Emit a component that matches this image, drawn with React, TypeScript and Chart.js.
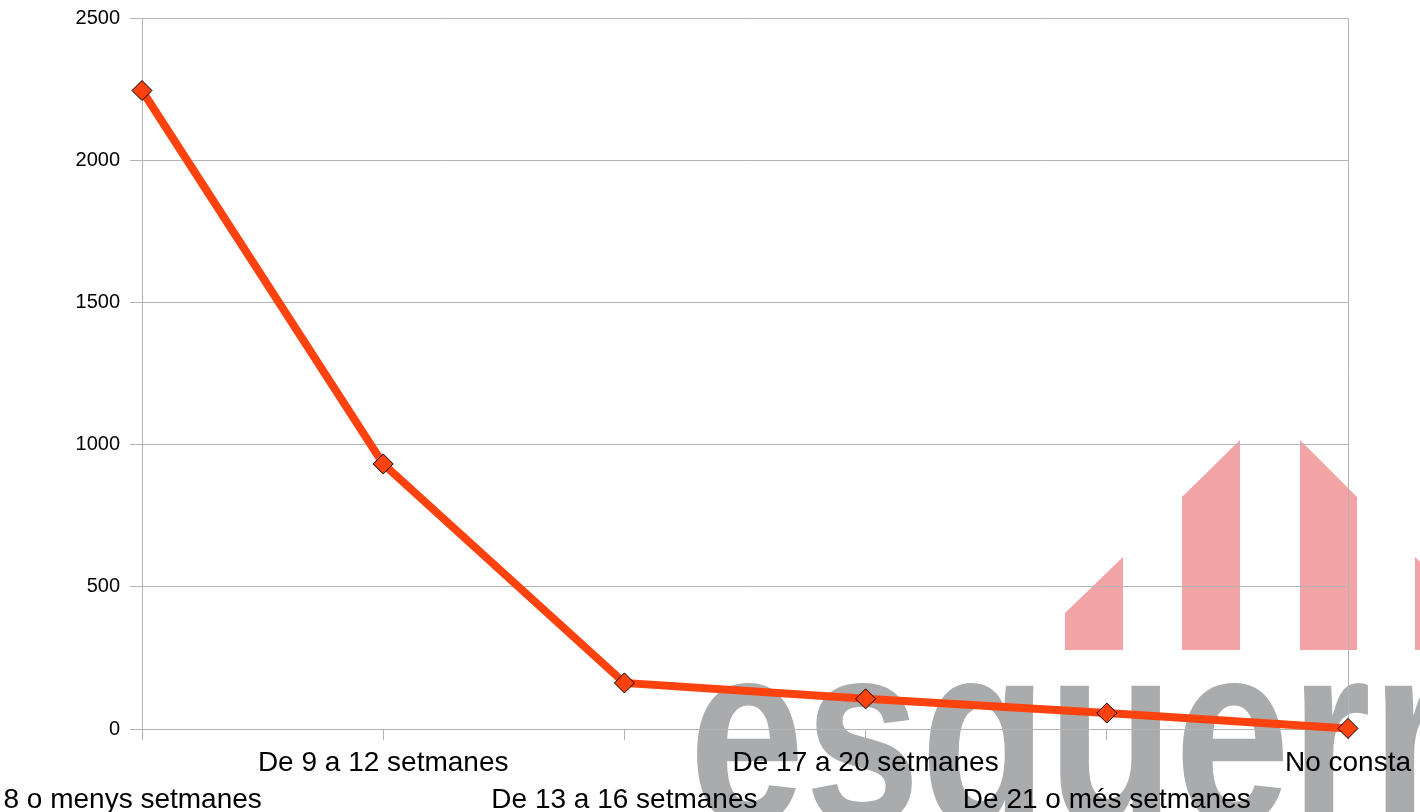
import React, { useEffect, useRef } from "react";
import { Chart, registerables } from "chart.js";

Chart.register(...registerables);

// ---- data ----
const categories: string[] = [
  "De 8 o menys setmanes",
  "De 9 a 12 setmanes",
  "De 13 a 16 setmanes",
  "De 17 a 20 setmanes",
  "De 21 o més setmanes",
  "No consta",
];
const values: number[] = [2245, 932, 162, 106, 56, 2];
const yMin = 0;
const yMax = 2500;
const yStep = 500;
const watermarkText = "esquerra";

const LINE = "#ff420e";
const GRID = "#b3b3b3";
const FONT = "'Liberation Sans', Arial, sans-serif";

export default function App() {
  const ref = useRef<HTMLCanvasElement | null>(null);

  useEffect(() => {
    const canvas = ref.current;
    if (!canvas) return;
    const chart = new Chart(canvas, {
      type: "line",
      data: {
        labels: categories,
        datasets: [
          {
            data: values,
            borderColor: LINE,
            backgroundColor: LINE,
            borderWidth: 8,
            pointStyle: "rectRot",
            pointRadius: 10,
            pointBorderColor: "#000000",
            pointBorderWidth: 1,
            pointBackgroundColor: LINE,
            tension: 0,
            fill: false,
            clip: false as any,
          },
        ],
      },
      options: {
        animation: false,
        responsive: false,
        devicePixelRatio: 1,
        layout: { padding: { top: 18, right: 72, left: 0, bottom: 0 } },
        plugins: {
          legend: { display: false },
          title: { display: false },
          tooltip: { enabled: false },
        },
        scales: {
          x: {
            type: "category",
            offset: false,
            grid: {
              display: true,
              drawOnChartArea: true,
              color: (ctx: any) =>
                ctx.index === categories.length - 1 ? GRID : "rgba(0,0,0,0)",
              tickColor: GRID,
              tickLength: 11,
              lineWidth: 1,
            },
            border: { display: true, color: GRID, width: 1 },
            ticks: {
              autoSkip: false,
              maxRotation: 0,
              minRotation: 0,
              padding: 5,
              color: "#000000",
              font: { family: FONT, size: 28, lineHeight: 37 / 28 },
              callback: (_v: any, i: number) => {
                let t = categories[i];
                if (i === 0) t = t + "        ";
                return i % 2 === 0 ? ["", t] : [t];
              },
            },
            afterFit: (scale: any) => {
              scale.paddingLeft = 0;
              scale.paddingRight = 0;
              scale.height = 83;
            },
          },
          y: {
            min: yMin,
            max: yMax,
            grid: {
              color: GRID,
              tickColor: GRID,
              tickLength: 12,
              lineWidth: 1,
            },
            border: { display: true, color: GRID, width: 1 },
            ticks: {
              stepSize: yStep,
              padding: 10,
              color: "#000000",
              font: { family: FONT, size: 20 },
              callback: (v: any) => String(v),
            },
            afterFit: (scale: any) => {
              scale.width = 142;
              scale.paddingTop = 0;
              scale.paddingBottom = 0;
            },
          },
        },
      },
    });
    return () => chart.destroy();
  }, []);

  const pink = "#f2a3a6";
  const shape = (left: number, top: number, w: number, h: number, clip: string) => (
    <div
      style={{
        position: "absolute",
        left,
        top,
        width: w,
        height: h,
        background: pink,
        clipPath: clip,
      }}
    />
  );

  return (
    <div
      style={{
        position: "fixed",
        left: 0,
        top: 0,
        width: 1420,
        height: 812,
        overflow: "hidden",
        background: "#ffffff",
      }}
    >
      <div style={{ position: "absolute", left: 0, top: 0, width: 1420, height: 812, overflow: "hidden" }}>
        {shape(1065, 557, 58, 93, "polygon(0 60.2%, 100% 0, 100% 100%, 0 100%)")}
        {shape(1182, 440, 58, 210, "polygon(0 27.1%, 100% 0, 100% 100%, 0 100%)")}
        {shape(1300, 440, 57, 210, "polygon(0 0, 100% 27.1%, 100% 100%, 0 100%)")}
        {shape(1415, 557, 58, 93, "polygon(0 0, 100% 60.2%, 100% 100%, 0 100%)")}
        <div
          style={{
            position: "absolute",
            left: 689,
            top: 603,
            fontFamily: FONT,
            fontWeight: 700,
            fontSize: 260,
            lineHeight: 1,
            color: "#aaabad",
            whiteSpace: "nowrap",
            transform: "scaleX(0.8)",
            transformOrigin: "0 0",
          }}
        >
          {watermarkText}
        </div>
      </div>
      <canvas
        ref={ref}
        width={1420}
        height={812}
        style={{ position: "absolute", left: 0, top: 0, width: 1420, height: 812 }}
      />
    </div>
  );
}
